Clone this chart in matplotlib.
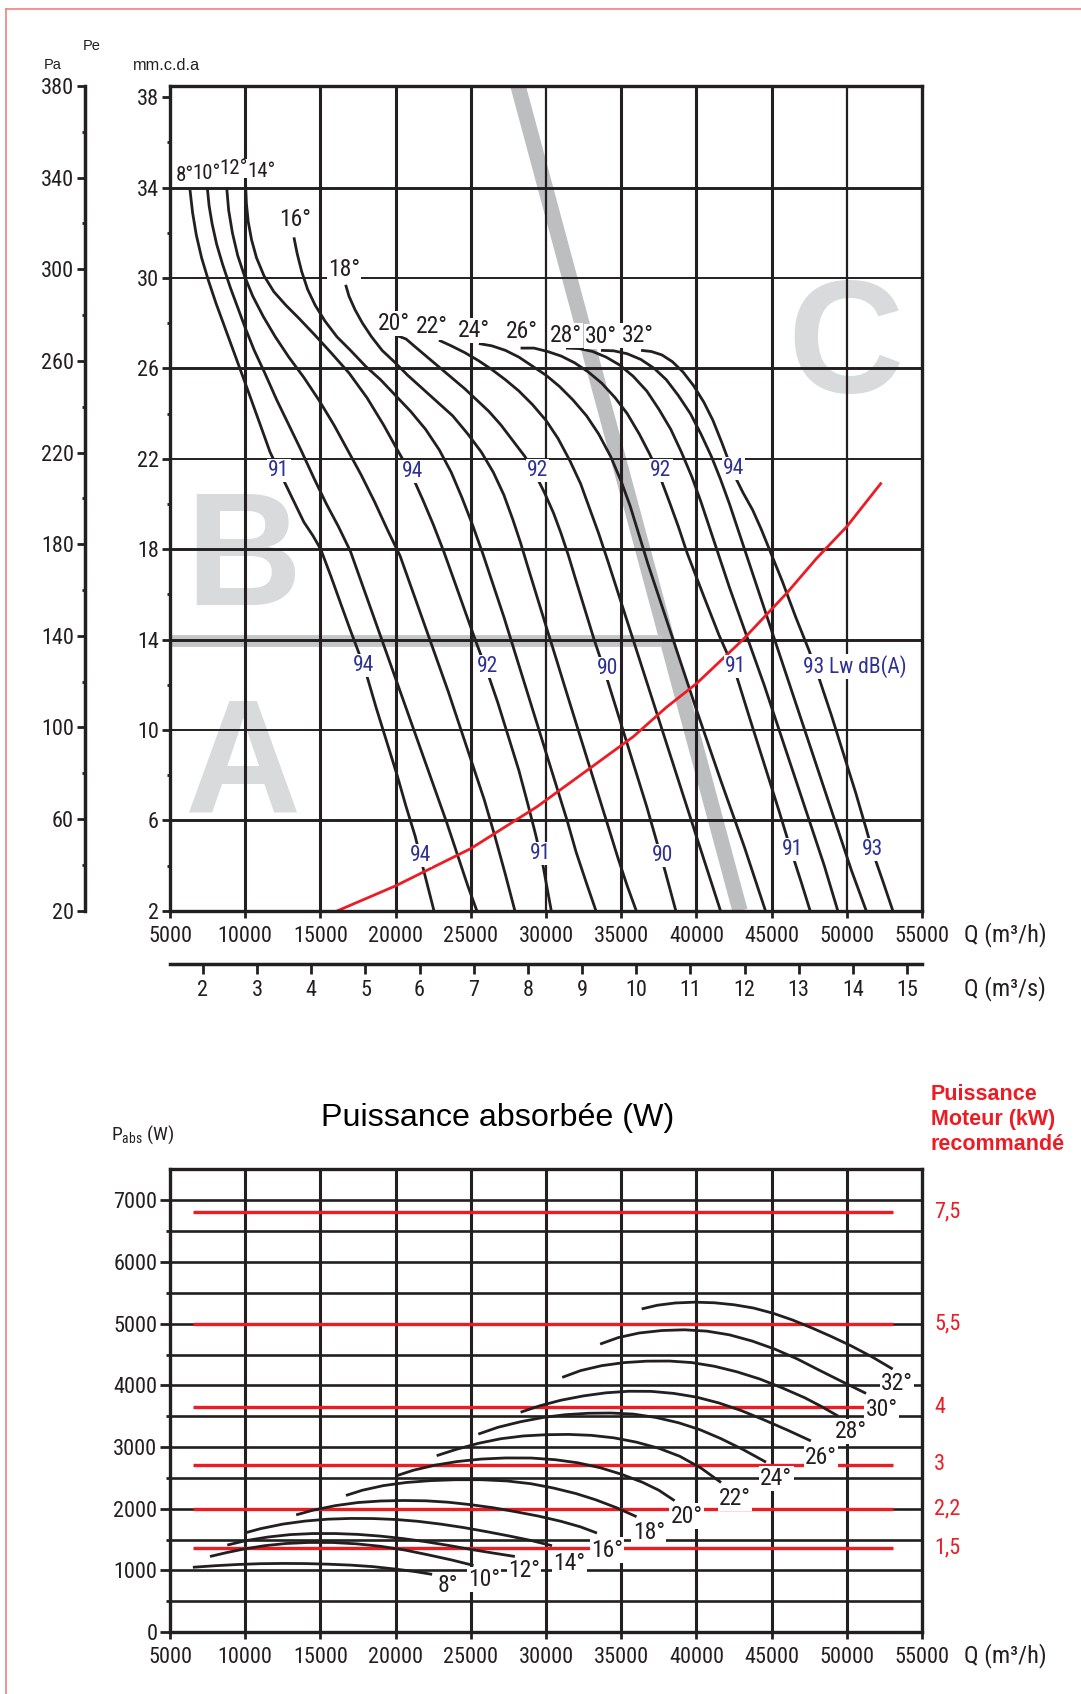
import matplotlib
matplotlib.use('Agg')
import matplotlib.pyplot as plt
from matplotlib import font_manager as fm
from matplotlib.lines import Line2D
from matplotlib.transforms import blended_transform_factory

# ---------------- fonts ----------------
_names = {f.name for f in fm.fontManager.ttflist}
_narrow_candidates = ['Liberation Sans Narrow', 'Nimbus Sans Narrow', 'Arial Narrow', 'Roboto Condensed',
                      'Open Sans Condensed']
NARROW = next((n for n in _narrow_candidates if n in _names), 'Liberation Sans')
REG = 'Liberation Sans'
HAS_NARROW = NARROW != 'Liberation Sans'
K = 1.0 if HAS_NARROW else 0.84
plt.rcParams['font.family'] = [NARROW, 'DejaVu Sans']
plt.rcParams['mathtext.fontset'] = 'custom'
plt.rcParams['mathtext.rm'] = NARROW

# ---------------- data ----------------
angles = [8, 10, 12, 14, 16, 18, 20, 22, 24, 26, 28, 30, 32]
q_ticks = [5000, 10000, 15000, 20000, 25000, 30000, 35000, 40000, 45000, 50000, 55000]
mm_ticks = [2, 6, 10, 14, 18, 22, 26, 30, 34, 38]
mm_minor = [4, 8, 12, 16, 20, 24, 28, 32, 36]
pa_ticks = [20, 60, 100, 140, 180, 220, 260, 300, 340, 380]
pa_minor = [40, 80, 120, 160, 200, 240, 280, 320, 360]
qs_ticks = [2, 3, 4, 5, 6, 7, 8, 9, 10, 11, 12, 13, 14, 15]
pw_ticks = [0, 1000, 2000, 3000, 4000, 5000, 6000, 7000]
pw_minor = [500, 1500, 2500, 3500, 4500, 5500, 6500]

# pressure curves (Q m3/h, Pe mm.c.d.a)
pe08 = [(6330, 33.9), (6500, 32.9), (6750, 31.9), (7100, 30.9), (7550, 29.9), (8050, 28.9), (8600, 27.9),
        (9150, 26.9), (9700, 25.9), (10300, 24.8), (10950, 23.6), (11650, 22.3), (12300, 21.4), (13100, 20.3),
        (13900, 19.2), (14500, 18.6), (15020, 18.0), (15700, 16.8), (16400, 15.5), (17000, 14.4), (17450, 13.6),
        (18000, 12.6), (18700, 11.0), (19400, 9.5), (20100, 8.0), (20700, 6.6), (21300, 5.3), (21900, 3.7),
        (22550, 2.0)]
pe10 = [(7480, 34.0), (7600, 33.2), (7800, 32.4), (8100, 31.5), (8500, 30.6), (9000, 29.6), (9500, 28.7),
        (10000, 27.8), (10600, 26.8), (11300, 25.8), (12100, 24.6), (12900, 23.5), (13700, 22.4), (14600, 21.1),
        (15400, 20.0), (16200, 19.0), (17000, 17.9), (17800, 16.4), (18600, 14.9), (19400, 13.4), (20200, 11.9),
        (21000, 10.4), (21800, 8.9), (22600, 7.4), (23400, 5.9), (24100, 4.5), (24800, 3.1), (25400, 2.0)]
pe12 = [(8770, 34.0), (8900, 33.0), (9150, 32.0), (9500, 31.0), (9950, 30.1), (10500, 29.2), (11200, 28.3),
        (12000, 27.4), (12900, 26.5), (13900, 25.6), (14900, 24.6), (15900, 23.5), (16800, 22.4), (17700, 21.3),
        (18600, 20.1), (19500, 18.8), (20300, 17.7), (21100, 16.2), (21900, 14.7), (22700, 13.2), (23500, 11.7),
        (24300, 10.1), (25100, 8.5), (25900, 6.9), (26600, 5.3), (27300, 3.6), (27930, 2.0)]
pe14 = [(10030, 34.1), (10080, 33.3), (10200, 32.5), (10420, 31.7), (10750, 30.9), (11250, 30.1), (11900, 29.4),
        (12700, 28.8), (13600, 28.2), (14600, 27.5), (15700, 26.7), (16900, 25.8), (18100, 24.7), (19200, 23.5),
        (20200, 22.3), (21060, 21.3), (21800, 20.2), (22500, 19.1), (23200, 17.9), (23900, 16.6), (24700, 15.1),
        (25400, 13.8), (26080, 12.6), (26800, 11.2), (27500, 9.7), (28200, 8.2), (28800, 6.7), (29300, 5.4),
        (29800, 4.0), (30350, 2.0)]
pe16 = [(13240, 31.8), (13450, 31.1), (13750, 30.3), (14150, 29.5), (14650, 28.8), (15300, 28.1), (16100, 27.4),
        (17000, 26.8), (18000, 26.1), (19000, 25.5), (20000, 24.8), (21000, 24.1), (22000, 23.3), (22900, 22.4),
        (23700, 21.4), (24400, 20.3), (25100, 19.1), (25800, 17.8), (26500, 16.4), (27200, 15.0), (27900, 13.5),
        (28600, 12.0), (29300, 10.5), (30000, 9.0), (30700, 7.5), (31400, 6.0), (32000, 4.6), (32700, 3.2),
        (33320, 2.0)]
pe18 = [(16680, 29.7), (16900, 29.2), (17300, 28.6), (17800, 28.0), (18400, 27.4), (19100, 26.8), (19900, 26.3),
        (20800, 25.7), (21800, 25.1), (22800, 24.5), (23800, 23.9), (24800, 23.1), (25700, 22.3), (26500, 21.4),
        (27200, 20.4), (27800, 19.3), (28300, 18.3), (28800, 17.2), (29400, 15.9), (30000, 14.6), (30700, 13.1),
        (31300, 11.8), (32000, 10.3), (32700, 8.8), (33400, 7.3), (34100, 5.8), (34800, 4.3), (35400, 3.1),
        (36000, 2.0)]
pe20 = [(20110, 27.45), (20700, 27.3), (21400, 26.9), (22200, 26.45), (23000, 26.0), (23800, 25.55), (24600, 25.1),
        (25400, 24.6), (26200, 24.1), (27000, 23.5), (27800, 22.8), (28600, 22.1), (29300, 21.3), (29900, 20.5),
        (30500, 19.6), (31000, 18.7), (31500, 17.7), (32000, 16.6), (32600, 15.3), (33200, 14.0), (33900, 12.6),
        (34600, 11.1), (35300, 9.6), (36000, 8.1), (36700, 6.6), (37300, 5.2), (37900, 3.8), (38630, 2.0)]
pe22 = [(22880, 27.25), (23700, 27.0), (24600, 26.7), (25500, 26.35), (26400, 25.95), (27300, 25.5), (28200, 25.0),
        (29100, 24.4), (30000, 23.7), (30800, 22.9), (31600, 21.9), (32300, 20.9), (32900, 19.8), (33500, 18.7),
        (34100, 17.5), (35550, 14.5), (37000, 11.5), (38450, 8.5), (39900, 5.5), (41600, 2.0)]
pe24 = [(25540, 27.1), (26400, 27.0), (27300, 26.8), (28200, 26.5), (29100, 26.1), (30000, 25.7), (30900, 25.2),
        (31800, 24.6), (32700, 23.9), (33500, 23.1), (34300, 22.1), (35000, 21.0), (35600, 19.9), (36200, 18.6),
        (36800, 17.3), (38400, 14.1), (40000, 10.9), (41600, 7.8), (43200, 4.8), (44590, 2.0)]
pe26 = [(28310, 26.9), (29200, 26.9), (30100, 26.75), (31000, 26.55), (31900, 26.25), (32800, 25.85), (33700, 25.35),
        (34600, 24.7), (35400, 24.0), (36200, 23.1), (36900, 22.2), (37580, 21.2), (38200, 20.1), (38800, 19.0),
        (39400, 17.8), (40500, 15.9), (41500, 14.2), (42570, 12.6), (43600, 10.4), (44600, 8.3), (45500, 6.4),
        (46370, 4.5), (47000, 3.2), (47560, 2.0)]
pe28 = [(31330, 26.9), (32200, 26.88), (33100, 26.75), (34000, 26.5), (34900, 26.15), (35800, 25.65), (36700, 25.0),
        (37500, 24.2), (38300, 23.3), (39000, 22.3), (39700, 21.2), (40300, 20.1), (40900, 18.9), (41500, 17.7),
        (42200, 16.3), (43000, 14.8), (44500, 12.0), (46000, 9.0), (47500, 6.0), (48500, 4.0), (49400, 2.0)]
pe30 = [(33660, 26.8), (34500, 26.78), (35400, 26.65), (36300, 26.4), (37200, 26.0), (38000, 25.5), (38800, 24.8),
        (39600, 24.0), (40300, 23.1), (41000, 22.1), (41600, 21.1), (42200, 20.0), (42800, 18.8), (43400, 17.6),
        (44100, 16.2), (44900, 14.6), (46200, 12.0), (47700, 9.0), (49200, 6.0), (50300, 3.8), (51290, 2.0)]
pe32 = [(36320, 26.8), (37000, 26.75), (37700, 26.6), (38400, 26.3), (39100, 25.85), (39800, 25.25), (40500, 24.5),
        (41100, 23.7), (41700, 22.7), (42430, 21.4), (43100, 20.5), (43744, 19.73), (44300, 18.9), (44847, 18.0),
        (45700, 16.6), (46600, 15.0), (47500, 13.5), (48200, 12.2), (49000, 10.6), (49800, 8.9), (50600, 7.2),
        (51300, 5.6), (51720, 4.6), (52400, 3.3), (53060, 2.0)]
pressure_curves = [pe08, pe10, pe12, pe14, pe16, pe18, pe20, pe22, pe24, pe26, pe28, pe30, pe32]

# angle label positions on the pressure chart
pe_label_q = [5964, 7460, 9255, 11117, 13350, 16570, 19890, 22440, 25210, 28380, 31330, 33660, 36090]
pe_label_h = [34.55, 34.63, 34.85, 34.7, 32.6, 30.38, 27.99, 27.84, 27.69, 27.63, 27.47, 27.4, 27.47]

# system (installation) curve
sys_q = [16150, 20000, 25000, 29400, 32500, 35800, 38000, 40000, 43100, 46000, 48000, 50000, 52250]
sys_h = [2.0, 3.1, 4.75, 6.6, 8.1, 9.7, 11.0, 12.05, 14.0, 16.05, 17.6, 19.0, 20.9]

# sound power labels Lw dB(A)
lw_text = ['91', '94', '92', '92', '94',
           '94', '92', '90', '91',
           '94', '91', '90', '91', '93']
lw_q = [12246, 21100, 29450, 37645, 42476,
        17853, 26096, 34099, 42631,
        21664, 29650, 37756, 46398, 51717]
lw_h = [21.5, 21.43, 21.5, 21.5, 21.57,
        12.87, 12.8, 12.72, 12.8,
        4.46, 4.54, 4.46, 4.69, 4.69]
lw_last_text = '93 Lw dB(A)'
lw_last_q = 47060
lw_last_h = 12.8

# zone letters
zone_text = ['B', 'A', 'C']
zone_q = [9854, 9854, 49950]
zone_h = [15.54, 6.37, 24.95]

# grey limit lines
band_diag_q = [28140, 42900]
band_diag_h = [38.5, 2.0]
band_hor_q = [5000, 37700]
band_hor_h = [13.95, 13.95]

# absorbed power curves (Q m3/h, W)
pw08 = [(6520, 1050), (8000, 1075), (9500, 1095), (11000, 1108), (12500, 1112), (14000, 1110), (15500, 1100),
        (17000, 1085), (18500, 1060), (20000, 1020), (21300, 980), (22430, 935)]
pw10 = [(7660, 1225), (8800, 1290), (10000, 1350), (11300, 1400), (12700, 1435), (14200, 1452), (15800, 1452),
        (17400, 1430), (19000, 1390), (20600, 1330), (22100, 1255), (23700, 1170), (25180, 1080)]
pw12 = [(8810, 1410), (10000, 1480), (11500, 1540), (13000, 1580), (14500, 1597), (16000, 1597), (17500, 1583),
        (19000, 1555), (20500, 1515), (22000, 1465), (23500, 1405), (25000, 1340), (26500, 1280), (27930, 1225)]
pw14 = [(9950, 1605), (11000, 1675), (12500, 1750), (14000, 1800), (15500, 1830), (17000, 1842), (18500, 1840),
        (20000, 1825), (21500, 1795), (23000, 1750), (24500, 1695), (26000, 1630), (27500, 1560), (29000, 1485),
        (30400, 1400)]
pw16 = [(13390, 1900), (14500, 1975), (16000, 2050), (17500, 2100), (19000, 2125), (20500, 2133), (22000, 2128),
        (23500, 2105), (25000, 2065), (26500, 2015), (28000, 1950), (29500, 1880), (31000, 1795), (32300, 1705),
        (33390, 1605)]
pw18 = [(16700, 2215), (17800, 2300), (19200, 2375), (20700, 2425), (22300, 2455), (24000, 2470), (25700, 2470),
        (27400, 2450), (29000, 2405), (30500, 2335), (32000, 2245), (33300, 2145), (34700, 2015), (36020, 1870)]
pw20 = [(20000, 2530), (21200, 2625), (22600, 2705), (24100, 2765), (25700, 2805), (27300, 2823), (29000, 2822),
        (30600, 2795), (32100, 2745), (33600, 2665), (35000, 2560), (36400, 2430), (37500, 2300), (38550, 2130)]
pw22 = [(22730, 2860), (24000, 2960), (25500, 3060), (27000, 3135), (28500, 3180), (30000, 3200), (31500, 3205),
        (33000, 3190), (34500, 3150), (36000, 3080), (37500, 2980), (38900, 2850), (40300, 2660), (41640, 2425)]
pw24 = [(25500, 3210), (26800, 3320), (28300, 3410), (29800, 3480), (31300, 3525), (32800, 3548), (34300, 3552),
        (35800, 3535), (37300, 3480), (38800, 3395), (40200, 3285), (41600, 3140), (43100, 2960), (44630, 2755)]
pw26 = [(28310, 3565), (29600, 3670), (31000, 3760), (32500, 3830), (34000, 3880), (35500, 3905), (37000, 3903),
        (38500, 3870), (40000, 3810), (41500, 3715), (43000, 3590), (44500, 3440), (46100, 3270), (47610, 3100)]
pw28 = [(31080, 4130), (32300, 4240), (33700, 4320), (35200, 4370), (36700, 4393), (38200, 4395), (39700, 4370),
        (41200, 4310), (42700, 4220), (44200, 4105), (45700, 3960), (47200, 3800), (48300, 3660), (49440, 3500)]
pw30 = [(33600, 4670), (34800, 4775), (36200, 4850), (37700, 4890), (39200, 4902), (40700, 4880), (42200, 4820),
        (43700, 4720), (45200, 4590), (46700, 4430), (48100, 4255), (49700, 4060), (51280, 3870)]
pw32 = [(36360, 5240), (37400, 5300), (38600, 5337), (39900, 5350), (41200, 5340), (42500, 5308), (43800, 5255),
        (45100, 5170), (46400, 5060), (47700, 4930), (49000, 4790), (50300, 4640), (51700, 4460), (53050, 4265)]
power_curves = [pw08, pw10, pw12, pw14, pw16, pw18, pw20, pw22, pw24, pw26, pw28, pw30, pw32]

pw_label_q = [23460, 25870, 28540, 31550, 34070, 36830, 39350, 42560, 45320, 48300, 50250, 52310, 53340]
pw_label_p = [752, 851, 990, 1113, 1330, 1619, 1881, 2164, 2492, 2833, 3247, 3608, 4034]

# recommended motor power
motor_kw = ['7,5', '5,5', '4', '3', '2,2', '1,5']
motor_level = [6810, 5000, 3645, 2710, 1995, 1370]
motor_q_from = 6520
motor_q_to = 53050

# ---------------- style ----------------
INK = '#231f20'
RED = '#ed1c24'
BLUE = '#2e3192'
GREY_BAND = '#bcbec0'
GREY_LET = '#d9dadb'
FS_TICK = 16 * K
FS_DEG = 17 * K
FS_DEG_TL = 15 if HAS_NARROW else 12.5
FS_LW = 15.5 * K
FS_UNIT = 17.5 * K

W, H = 1081, 1694
fig = plt.figure(figsize=(W / 100, H / 100), dpi=100)


def fx(X):
    return X / W


def fy(Y):
    return 1 - Y / H


def box(x0, y0, x1, y1):
    return [fx(x0), fy(y1), (x1 - x0) / W, (y1 - y0) / H]


# page frame (thin red line left/top)
fig.add_artist(Line2D([fx(6), fx(6)], [0, fy(9)], transform=fig.transFigure, color='#f08080', lw=1.2))
fig.add_artist(Line2D([fx(6), 1], [fy(9), fy(9)], transform=fig.transFigure, color='#f08080', lw=1.2))

# ================= top chart =================
ax = fig.add_axes(box(170, 86, 922, 910.7))
ax.set_xlim(q_ticks[0], q_ticks[-1])
ax.set_ylim(2, 38.5)
for s in ax.spines.values():
    s.set_linewidth(2.4)
    s.set_color(INK)
    s.set_zorder(6)

for q in q_ticks[1:-1]:
    ax.axvline(q, color=INK, lw=1.6 if q in (30000, 50000) else 2.2, zorder=2)
for h in mm_ticks[1:-1]:
    ax.axhline(h, color=INK, lw=1.4 if h in (10, 22, 30) else 2.1, zorder=2)

ax.set_xticks(q_ticks)
ax.set_xticklabels([str(q) for q in q_ticks])
ax.set_yticks(mm_ticks)
ax.set_yticklabels([str(v) for v in mm_ticks])
ax.set_yticks(mm_minor, minor=True)
ax.tick_params(axis='x', direction='out', length=5, width=2, color=INK, pad=6, labelsize=FS_TICK, labelcolor=INK)
ax.tick_params(axis='y', which='major', direction='out', length=6, width=2, color=INK, pad=2,
               labelsize=FS_TICK, labelcolor=INK)
ax.tick_params(axis='y', which='minor', direction='out', length=2.5, width=2, color=INK)

# zone letters
for t, q, h in zip(zone_text, zone_q, zone_h):
    ax.text(q, h, t, ha='center', va='baseline', fontsize=116, fontweight='bold', family=[REG],
            color=GREY_LET, zorder=1)

# grey limit lines
ax.plot(band_diag_q, band_diag_h, color=GREY_BAND, lw=11, solid_capstyle='butt', zorder=1.5)
ax.plot(band_hor_q, band_hor_h, color='#c4c5c7', lw=8.5, solid_capstyle='butt', zorder=1.5)

# fan curves
for crv in pressure_curves:
    ax.plot([p[0] for p in crv], [p[1] for p in crv], color=INK, lw=2.0, zorder=4,
            solid_capstyle='butt', solid_joinstyle='round')

# system curve
ax.plot(sys_q, sys_h, color=RED, lw=2.0, zorder=5, solid_joinstyle='round')

# angle labels
wb = dict(facecolor='white', edgecolor='none', pad=0.8)
wb_tight = dict(facecolor='white', edgecolor='none', pad=0.3)
for i, (a, q, h) in enumerate(zip(angles, pe_label_q, pe_label_h)):
    top_left = i < 4
    ax.text(q, h, f'{a}°', ha='center', va='center', fontsize=FS_DEG_TL if top_left else FS_DEG, color=INK,
            bbox=wb_tight if top_left else wb, zorder=7)

# sound labels
for t, q, h in zip(lw_text, lw_q, lw_h):
    ax.text(q, h, t, ha='center', va='center', fontsize=FS_LW, color=BLUE, bbox=wb, zorder=7)
ax.text(lw_last_q, lw_last_h, lw_last_text, ha='left', va='center', fontsize=FS_LW, color=BLUE, bbox=wb, zorder=7)

# Pa axis
axp = fig.add_axes(box(85, 86, 86, 910.7))
axp.set_facecolor('none')
for k, s in axp.spines.items():
    s.set_visible(k == 'left')
axp.spines['left'].set_linewidth(2.5)
axp.spines['left'].set_color(INK)
axp.set_ylim(pa_ticks[0], pa_ticks[-1])
axp.set_xticks([])
axp.set_yticks(pa_ticks)
axp.set_yticklabels([str(v) for v in pa_ticks])
axp.set_yticks(pa_minor, minor=True)
axp.tick_params(axis='y', which='major', direction='out', length=6, width=2, color=INK, pad=2,
                labelsize=FS_TICK, labelcolor=INK)
axp.tick_params(axis='y', which='minor', direction='out', length=2.5, width=2, color=INK)

# m3/s axis
axs = fig.add_axes(box(170, 940, 922, 964.4))
axs.set_facecolor('none')
for k, s in axs.spines.items():
    s.set_visible(k == 'bottom')
axs.spines['bottom'].set_linewidth(2.5)
axs.spines['bottom'].set_color(INK)
axs.set_xlim(1.391, 15.277)
axs.set_yticks([])
axs.set_xticks(qs_ticks)
axs.set_xticklabels([str(v) for v in qs_ticks])
axs.tick_params(axis='x', direction='out', length=7, width=2, color=INK, pad=4, labelsize=FS_TICK, labelcolor=INK)

fig.text(fx(44), fy(65), 'Pa', ha='left', va='center', fontsize=10.5, family=[REG], color=INK)
fig.text(fx(83), fy(46), 'Pe', ha='left', va='center', fontsize=10.5, family=[REG], color=INK)
fig.text(fx(133), fy(65), 'mm.c.d.a', ha='left', va='center', fontsize=11.8, family=[REG], color=INK)
fig.text(fx(964), fy(935), 'Q (m³/h)', ha='left', va='center', fontsize=FS_UNIT, color=INK)
fig.text(fx(964), fy(989), 'Q (m³/s)', ha='left', va='center', fontsize=FS_UNIT, color=INK)

# ================= bottom chart =================
bx = fig.add_axes(box(170, 1169, 922, 1632))
bx.set_xlim(q_ticks[0], q_ticks[-1])
bx.set_ylim(0, 7510)
for s in bx.spines.values():
    s.set_linewidth(2.4)
    s.set_color(INK)
    s.set_zorder(6)
for q in q_ticks[1:-1]:
    bx.axvline(q, color=INK, lw=2.2, zorder=2)
for p in pw_ticks[1:] + pw_minor:
    bx.axhline(p, color=INK, lw=1.9, zorder=2)

bx.set_xticks(q_ticks)
bx.set_xticklabels([str(q) for q in q_ticks])
bx.set_yticks(pw_ticks)
bx.set_yticklabels([str(v) for v in pw_ticks])
bx.set_yticks(pw_minor, minor=True)
bx.tick_params(axis='x', direction='out', length=5, width=2, color=INK, pad=6, labelsize=FS_TICK, labelcolor=INK)
bx.tick_params(axis='y', which='major', direction='out', length=7, width=2, color=INK, pad=2,
               labelsize=FS_TICK, labelcolor=INK)
bx.tick_params(axis='y', which='minor', direction='out', length=3, width=2, color=INK)

for lvl in motor_level:
    bx.plot([motor_q_from, motor_q_to], [lvl, lvl], color=RED, lw=2.4, zorder=3, solid_capstyle='butt')

for crv in power_curves:
    bx.plot([p[0] for p in crv], [p[1] for p in crv], color=INK, lw=2.0, zorder=4, solid_capstyle='butt',
            solid_joinstyle='round')

for a, q, p in zip(angles, pw_label_q, pw_label_p):
    bx.text(q, p, f'{a}°', ha='center', va='center', fontsize=FS_DEG, color=INK, bbox=wb, zorder=7)

tr = blended_transform_factory(bx.transAxes, bx.transData)
for t, lvl in zip(motor_kw, motor_level):
    bx.text(1.0 + 12 / 752, lvl, t, transform=tr, ha='left', va='center', fontsize=FS_TICK, color=RED,
            clip_on=False)

fig.text(fx(498), fy(1118), 'Puissance absorbée (W)', ha='center', va='center', fontsize=23.2, family=[REG],
         color='black')
fig.text(fx(111), fy(1135), r'P$_{\mathregular{abs}}$ (W)', ha='left', va='center', fontsize=14 * K, color=INK)
for i, line in enumerate(['Puissance', 'Moteur (kW)', 'recommandé']):
    fig.text(fx(931), fy(1095 + 24.8 * i), line, ha='left', va='center', fontsize=15.5, fontweight='bold',
             family=[REG], color=RED)
fig.text(fx(964), fy(1656), 'Q (m³/h)', ha='left', va='center', fontsize=FS_UNIT, color=INK)

fig.savefig('out.png', dpi=100)
